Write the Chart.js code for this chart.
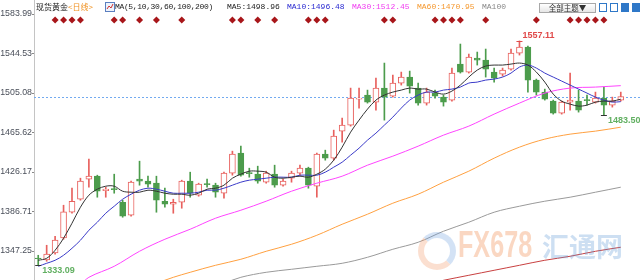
<!DOCTYPE html>
<html>
<head>
<meta charset="utf-8">
<script src="https://cdn.jsdelivr.net/npm/chart.js@4.4.1/dist/chart.umd.min.js"></script>
<style>
  html, body { margin: 0; padding: 0; background: #fff; }
  #wrap { position: relative; width: 640px; height: 280px; overflow: hidden; }
  #c { position: absolute; left: 0; top: 0; }
  .hd { position: absolute; top: 2px; font-size: 8px; line-height: 10px; white-space: nowrap;
        font-family: "Liberation Mono", "DejaVu Sans Mono", monospace; }
  .cjk { font-family: "Noto Sans CJK SC", sans-serif; }
  .ico { position: absolute; top: 3px; width: 8px; height: 9px; box-sizing: border-box; border: 1px solid #2f78c8; background: #fff; }
  .ico.on { background: #2f78c8; }
  .wm { position: absolute; white-space: nowrap; font-weight: bold; }
</style>
</head>
<body>
<div id="wrap">
  <canvas id="c" width="640" height="280"></canvas>

  <div class="hd cjk" style="left:36px;color:#222">现货黄金<span style="color:#f0901e">&lt;日线&gt;</span></div>
  <svg style="position:absolute;left:105px;top:2px" width="10" height="10">
    <rect x="0.5" y="0.5" width="9" height="9" fill="#eef3fb" stroke="#5b7fc0"/>
    <polyline points="2,7 4,4 6,6 8,2" fill="none" stroke="#d03030" stroke-width="1"/>
  </svg>
  <div class="hd" style="left:115px;color:#222;letter-spacing:-0.35px">MA(5,10,30,60,100,200)</div>
  <div class="hd" id="t5" style="left:227px;color:#222"></div>
  <div class="hd" id="t10" style="left:287px;color:#2a2ad0"></div>
  <div class="hd" id="t30" style="left:352px;color:#f03cf0"></div>
  <div class="hd" id="t60" style="left:417px;color:#f5982e"></div>
  <div class="hd" style="left:482px;color:#888">MA100</div>

  <div class="hd cjk" style="left:539px;top:3px;width:57px;height:10px;box-sizing:border-box;border:1px solid #a8a8a8;background:linear-gradient(#fff,#e6e6e6);color:#333;text-align:center;line-height:8px;font-size:7.5px">全部主题▼</div>
  <div class="ico" style="left:599px"></div>
  <div class="ico" style="left:610px"></div>
  <div class="ico on" style="left:621px"></div>
  <div class="ico on" style="left:632px"></div>

  <div style="position:absolute;left:418px;top:232px;width:38px;height:38px;border-radius:50%;box-sizing:border-box;border:6px solid rgba(240,150,100,0.3);border-top-color:rgba(110,160,220,0.3);border-right-color:rgba(110,160,220,0.3)"></div>
  <div class="wm" style="left:458px;top:224px;font-size:37px;font-family:'Liberation Sans',Arial,sans-serif;color:rgba(242,150,95,0.38);transform:scaleX(0.68);transform-origin:left top">FX678</div>
  <div class="wm cjk" style="left:542px;top:226px;font-size:27px;color:rgba(100,155,215,0.32)">汇通网</div>
</div>

<script>
// daily candles, oldest first
const open = [1340.3,1338.3,1345.3,1360.3,1386,1399,1419,1422,1407.5,1409.5,
  1396,1383,1419,1417,1415,1397,1394,1396,1417,1403,
  1414.5,1413,1405,1425,1445,1425.5,1424,1416,1424,1413,
  1420,1425,1430,1412,1444,1440,1467,1473,1499,1503,
  1496,1510,1502,1515,1521,1510,1495,1505,1501,1498,
  1534,1526,1540,1538,1526,1524,1529,1545,1551,1518,
  1506,1497,1485,1496,1497,1498.5,1496,1500,1493,1498];
const high = [1343,1353,1362,1393,1410,1420,1439,1423,1411,1424,
  1398,1417,1437,1422,1422,1410,1399,1418,1426,1415,
  1419,1415,1426,1447,1452,1430,1432,1427,1433,1419,
  1427,1433,1431,1445,1448,1468,1480,1510,1510,1508,
  1520,1535,1523,1526,1527,1515,1510,1508,1503,1530,
  1554,1544,1546,1549,1530,1530,1549,1557.11,1552,1519,
  1509,1498,1497,1525,1508,1503,1506,1511,1501,1506];
const low = [1333.09,1337,1344,1359,1385,1398,1411,1401,1401,1405,
  1381,1382,1413,1411,1386,1391,1385,1390,1401,1402,
  1411,1401,1400,1423,1422,1421,1415,1415,1411,1412,
  1416,1423,1410,1401,1438,1438,1456,1472,1490,1495,
  1488,1478,1501,1513,1505,1493,1493,1500,1492,1497,
  1525,1525,1533,1521,1516,1522,1528,1543,1506,1503,
  1498,1484,1484,1488,1486,1493,1495,1483.5,1491,1497];
const close = [1339.5,1344.3,1358.3,1386.3,1397,1417,1422,1407,1409,1408.5,
  1382,1416,1417,1414,1398,1394,1396,1417,1405,1414,
  1413.5,1406,1425,1444,1423,1424.5,1417,1425,1413,1417,
  1425,1430,1413,1444,1440,1462,1473,1500,1500,1496,
  1510,1501,1515,1521,1512,1495,1506,1502,1496,1525,
  1526,1541,1538,1529,1520,1528,1545,1551,1518,1506,
  1499,1485,1496,1498,1488,1497.5,1500,1493,1497,1501.5];

// moving averages
const ma5 = [1338,1340,1348,1360,1375,1391,1403,1409,1412,1412,
  1407,1406,1406,1408,1407,1405,1404,1404,1403,1405,
  1409,1410,1413,1420,1424,1427,1427,1426,1421,1420,
  1421,1422,1421,1424,1429,1438,1451,1466,1478,1489,
  1498,1503,1506,1508,1510,1509,1509,1506,1504,1507,
  1513,1521,1528,1532,1533,1533,1534,1535,1533,1526,
  1516,1504,1497,1494,1492,1493,1496,1497,1497,1498.96];
const ma10 = [1332,1335,1338,1343,1350,1358,1368,1376,1385,1392,
  1399,1404,1408,1410,1409,1407,1405,1405,1405,1406,
  1408,1408,1410,1413,1416,1418,1419,1420,1421,1421,
  1421,1423,1423,1423,1426,1431,1436,1443,1450,1458,
  1465,1473,1481,1490,1498,1503,1506,1506,1508,1509,
  1511,1515,1516,1518,1519,1521,1525,1531,1533,1530,
  1525,1521,1517,1513,1509,1505,1501,1498,1496,1496.48];
const ma30Days = [5,6,9,12,15,18,21,24,27,30,33,36,39,42,45,48,51,54,57,60,63,66,69];
const ma30 = [1313,1321,1332,1347,1359,1369,1380,1388,1397,1407,1415,1422,1433,1442,1452,1463,1472,1484,1495,1505,1510,1511,1512.45];
const ma60Days = [14,16,18,21,24,27,30,33,36,39,42,45,48,51,54,57,60,63,66,69];
const ma60 = [1315,1321,1326,1333,1339,1347,1354,1363,1374,1384,1395,1404,1416,1427,1440,1451,1459,1464,1467,1470.95];
const ma100Days = [22,24,27,30,33,36,39,42,45,48,51,54,57,60,63,66,69];
const ma100 = [1315,1321,1326,1329,1332,1335,1341,1349,1356,1367,1376,1386,1392,1397,1401,1406,1411];
const ma200Days = [47,48,51,54,57,60,63,66,69];
const ma200 = [1316,1318,1323,1328,1333,1338,1342,1347,1351];

const yTicks = [1347.25, 1386.71, 1426.17, 1465.62, 1505.08, 1544.53, 1583.99];
const eventDays = [2,3,4,5,9,10,12,14,17,23,24,26,28,32,33,34,41,42,47,48,49,50,53,59,63,64,65,66,67];
const highMarks = [57];
const lowMarks = [0, 67];

const days = open.map((_, i) => String(i + 1));
const UP = '#e8615e', DOWN = '#4c9c4c';

document.getElementById('t5').textContent = 'MA5:' + ma5[ma5.length - 1].toFixed(2);
document.getElementById('t10').textContent = 'MA10:' + ma10[ma10.length - 1].toFixed(2);
document.getElementById('t30').textContent = 'MA30:' + ma30[ma30.length - 1].toFixed(2);
document.getElementById('t60').textContent = 'MA60:' + ma60[ma60.length - 1].toFixed(2);

const isUp = open.map((o, i) => close[i] >= o);
const sparse = (idx, vals) => idx.map((d, k) => ({ x: days[d], y: vals[k] }));
const maLine = (data, color) => ({
  type: 'line', data: data, borderColor: color, borderWidth: 1,
  pointRadius: 0, tension: 0.35, spanGaps: true, order: 0
});

const extras = {
  id: 'extras',
  beforeDatasetsDraw(chart) {
    const { ctx, chartArea, scales: { y } } = chart;
    const py = Math.round(y.getPixelForValue(close[close.length - 1])) + 0.5;
    ctx.save();
    ctx.strokeStyle = '#72aaf0';
    ctx.lineWidth = 1;
    ctx.setLineDash([2, 2]);
    ctx.beginPath();
    ctx.moveTo(chartArea.left, py);
    ctx.lineTo(chart.width, py);
    ctx.stroke();
    ctx.restore();
  },
  afterDatasetsDraw(chart) {
    const { ctx, scales: { x, y } } = chart;
    ctx.save();
    ctx.fillStyle = '#a8161a';
    eventDays.forEach(d => {
      const px = x.getPixelForValue(d);
      ctx.beginPath();
      ctx.moveTo(px, 16.5);
      ctx.lineTo(px + 3.5, 20);
      ctx.lineTo(px, 23.5);
      ctx.lineTo(px - 3.5, 20);
      ctx.closePath();
      ctx.fill();
    });

    ctx.font = 'bold 9px "Liberation Sans", Arial, sans-serif';
    ctx.lineWidth = 1;
    ctx.textAlign = 'left';
    highMarks.forEach(d => {
      const px = x.getPixelForValue(d), py = Math.round(y.getPixelForValue(high[d])) + 0.5;
      ctx.strokeStyle = ctx.fillStyle = '#e04a4a';
      ctx.beginPath(); ctx.moveTo(px - 3, py); ctx.lineTo(px + 3, py); ctx.stroke();
      ctx.textBaseline = 'bottom';
      ctx.fillText(high[d].toFixed(2), px + 3, py - 1);
    });
    lowMarks.forEach(d => {
      const px = x.getPixelForValue(d), py = Math.round(y.getPixelForValue(low[d])) + 0.5;
      ctx.strokeStyle = '#333';
      ctx.beginPath(); ctx.moveTo(px - 3, py); ctx.lineTo(px + 3, py); ctx.stroke();
      ctx.fillStyle = '#62b062';
      ctx.textBaseline = 'top';
      ctx.fillText(low[d].toFixed(2), px + 4, py + 1);
    });
    ctx.restore();
  }
};

new Chart(document.getElementById('c'), {
  type: 'bar',
  data: {
    labels: days,
    datasets: [
      {
        data: low.map((l, i) => [l, high[i]]),
        backgroundColor: isUp.map(u => u ? UP : DOWN),
        borderWidth: 0, barThickness: 1, grouped: false, order: 2
      },
      {
        data: open.map((o, i) => [o, close[i]]),
        backgroundColor: isUp.map(u => u ? '#ffffff' : DOWN),
        borderColor: isUp.map(u => u ? UP : DOWN),
        borderWidth: 1, borderSkipped: false, barThickness: 6, grouped: false, order: 1
      },
      maLine(ma5, '#333333'),
      maLine(ma10, '#3a3ac8'),
      maLine(sparse(ma30Days, ma30), '#ff44ff'),
      maLine(sparse(ma60Days, ma60), '#ffa040'),
      maLine(sparse(ma100Days, ma100), '#9a9a9a'),
      maLine(sparse(ma200Days, ma200), '#c84040')
    ]
  },
  options: {
    responsive: false,
    animation: false,
    layout: { padding: { top: 0, right: 15, bottom: 0, left: 0 } },
    plugins: { legend: { display: false }, tooltip: { enabled: false } },
    scales: {
      x: { display: false, offset: true },
      y: {
        min: 1318.3,
        max: 1598.0,
        afterBuildTicks(s) { s.ticks = yTicks.map(v => ({ value: v })); },
        afterFit(s) { s.width = 34; s.paddingTop = 0; s.paddingBottom = 0; },
        ticks: {
          padding: 0,
          color: '#4a4f5a',
          font: { family: '"Liberation Sans", Arial, sans-serif', size: 8.8 },
          callback: v => v.toFixed(2)
        },
        grid: { drawOnChartArea: false, tickLength: 2, color: '#888' },
        border: { color: '#c4c4c4', dash: [1, 2] }
      }
    }
  },
  plugins: [extras]
});
</script>
</body>
</html>
